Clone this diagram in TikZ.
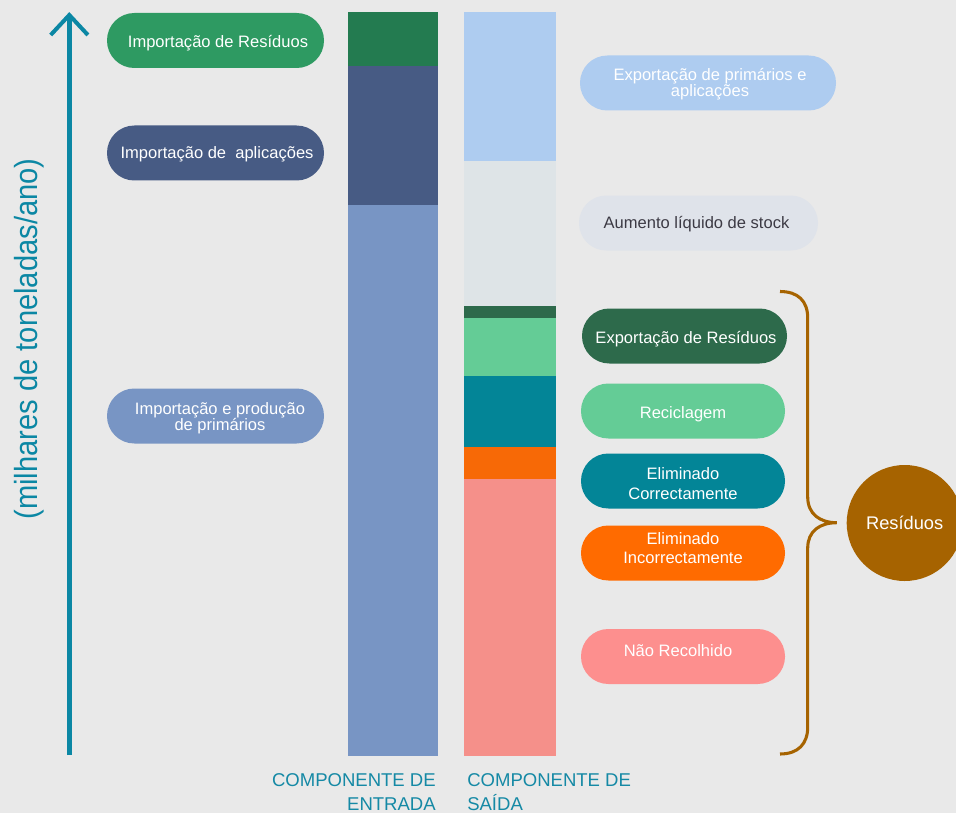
\documentclass[tikz,border=0pt]{standalone}
\usepackage{fontspec}
\setmainfont{Liberation Sans}
\newfontfamily\axisfont[FakeStretch=0.91]{Liberation Sans}
\definecolor{bg}{HTML}{E9E9E9}
\definecolor{axisc}{HTML}{0B87A4}
\definecolor{labc}{HTML}{1589A5}
\definecolor{dgreen}{HTML}{237B50}
\definecolor{pgreen}{HTML}{2E9A62}
\definecolor{dblue}{HTML}{475B84}
\definecolor{lblue}{HTML}{7895C4}
\definecolor{sky}{HTML}{AECCF0}
\definecolor{pgrey}{HTML}{DEE4E7}
\definecolor{pgreyp}{HTML}{DFE3EA}
\definecolor{forest}{HTML}{2D6A4B}
\definecolor{mint}{HTML}{64CC96}
\definecolor{teal}{HTML}{038597}
\definecolor{orangeb}{HTML}{F76906}
\definecolor{orangep}{HTML}{FF6B00}
\definecolor{pinkb}{HTML}{F5908A}
\definecolor{pinkp}{HTML}{FD8F8E}
\definecolor{brown}{HTML}{A66300}
\definecolor{darktext}{HTML}{3C3A44}
\begin{document}
\begin{tikzpicture}[x=0.75pt,y=-0.75pt,
  pill/.style={rounded corners=20.5pt, minimum height=41.25pt, inner sep=0pt},
  pilltext/.style={text=white, inner sep=0pt, align=center, anchor=base,
    font=\fontsize{12.4}{12}\selectfont},
  pilltextwide/.style={pilltext, font=\fontsize{12.4}{14.4}\selectfont},
  bottomlab/.style={text=labc, inner sep=0pt, font=\fontsize{13.9}{18}\selectfont}]
\fill[bg] (0,0) rectangle (956,813);
\useasboundingbox (0,0) rectangle (956,813);

% axis
\coordinate (axisbottom) at (69.3,755);
\coordinate (axistop) at (69.3,15);
\draw[axisc, line width=3.4pt] (axisbottom) -- (axistop);
\draw[axisc, line width=3pt, line join=miter] (50.7,35) -- (axistop) -- (87.9,35);
\node[axisc, rotate=90, inner sep=0pt, font=\axisfont\fontsize{24}{24}\selectfont] (axislab) at (29,339) {(milhares de toneladas/ano)};

% input bar
\fill[dgreen] (348,12) rectangle (438,66);
\fill[dblue] (348,66) rectangle (438,205);
\fill[lblue] (348,205) rectangle (438,755.5);

% output bar
\fill[sky] (464,12) rectangle (556,161);
\fill[pgrey] (464,161) rectangle (556,306);
\fill[forest] (464,306) rectangle (556,318);
\fill[mint] (464,318) rectangle (556,376);
\fill[teal] (464,376) rectangle (556,447);
\fill[orangeb] (464,447) rectangle (556,479);
\fill[pinkb] (464,479) rectangle (556,755.5);

% left pills
\node[pill, fill=pgreen, minimum width=162.75pt] (impres) at (215.5,40.5) {};
\node[pilltext] (impres-t) at (218,48) {Importação de Resíduos};
\node[pill, fill=dblue, minimum width=162.75pt] (impapl) at (215.5,153) {};
\node[pilltext] (impapl-t) at (217,158.3) {Importação de\ \ aplicações};
\node[pill, fill=lblue, minimum width=162.75pt] (impprim) at (215.5,416) {};
\node[pilltext] (impprim-t) at (220,430.7) {Importação e produção\\de primários};

% right pills
\node[pill, fill=sky, minimum width=192pt] (expprim) at (708,83) {};
\node[pilltext] (expprim-t) at (710,96.7) {Exportação de primários e\\aplicações};
\node[pill, fill=pgreyp, minimum width=179.25pt] (aumento) at (698.5,223) {};
\node[pilltext, text=darktext] (aumento-t) at (696.5,228.3) {Aumento líquido de stock};
\node[pill, fill=forest, minimum width=153.75pt] (expres) at (684.5,336) {};
\node[pilltext] (expres-t) at (686,343.3) {Exportação de Resíduos};
\node[pill, fill=mint, minimum width=153pt] (recic) at (683,411) {};
\node[pilltext] (recic-t) at (683,418.3) {Reciclagem};
\node[pill, fill=teal, minimum width=153pt] (elimc) at (683,481) {};
\node[pilltextwide] (elimc-t) at (683,499) {Eliminado\\Correctamente};
\node[pill, fill=orangep, minimum width=153pt] (elimi) at (683,553) {};
\node[pilltextwide] (elimi-t) at (683,563.3) {Eliminado\\Incorrectamente};
\node[pill, fill=pinkp, minimum width=153pt] (naorec) at (683,656.5) {};
\node[pilltext] (naorec-t) at (678,656) {Não Recolhido};

% brace
\draw[brown, line width=2.3pt]
  (780,291.5) .. controls (798,291.5) and (807.7,301) .. (807.7,318)
  -- (807.7,497) .. controls (807.7,514) and (820,522.7) .. (836.7,522.7)
  .. controls (820,522.7) and (807.7,531) .. (807.7,548)
  -- (807.7,727) .. controls (807.7,744) and (798,754) .. (780,754);

% residuos circle
\node[circle, fill=brown, minimum size=87pt, inner sep=0pt] (residuos) at (904.7,523) {};
\node[pilltext, font=\fontsize{13.7}{14}\selectfont] (residuos-t) at (904.7,529) {Resíduos};

% bottom labels
\node[bottomlab, anchor=north east, align=right] (entrada) at (436,773.4) {COMPONENTE DE\\ENTRADA};
\node[bottomlab, anchor=north west, align=left] (saida) at (467,773.4) {COMPONENTE DE\\SAÍDA};
\end{tikzpicture}
\end{document}
